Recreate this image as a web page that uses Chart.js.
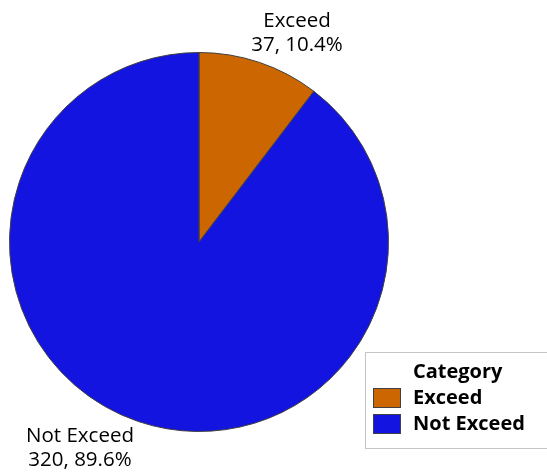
<!DOCTYPE html>
<html>
<head>
<meta charset="utf-8">
<script src="https://cdn.jsdelivr.net/npm/chart.js@4/dist/chart.umd.min.js"></script>
<style>
  html, body { margin: 0; padding: 0; background: #fff; }
  #wrap { width: 547px; height: 472px; position: relative; }
</style>
</head>
<body>
<div id="wrap"><canvas id="pieChart" width="547" height="472"></canvas></div>
<script>
const categories = ['Exceed', 'Not Exceed'];
const counts = [37, 320];
const percents = [10.4, 89.6];
const sliceColors = ['#CC6600', '#1414E0'];
const legendTitle = 'Category';

const FONT = '"Open Sans", "Noto Sans", sans-serif';

// slice labels: name on the first line, "count, pct%" on the second
const sliceLabels = {
    id: 'sliceLabels',
    afterDraw(chart) {
        const ctx = chart.ctx;
        const spots = [
            { x: 297, y: 27 },
            { x: 80, y: 442 }
        ];
        ctx.save();
        ctx.fillStyle = '#000';
        ctx.font = '20.5px ' + FONT;
        ctx.textAlign = 'center';
        ctx.textBaseline = 'alphabetic';
        categories.forEach((cat, i) => {
            ctx.fillText(cat, spots[i].x, spots[i].y);
            ctx.fillText(counts[i] + ', ' + percents[i].toFixed(1) + '%', spots[i].x, spots[i].y + 24);
        });
        ctx.restore();
    }
};

// boxed legend in the lower right corner
const boxLegend = {
    id: 'boxLegend',
    afterDraw(chart) {
        const ctx = chart.ctx;
        ctx.save();
        ctx.fillStyle = '#fff';
        ctx.fillRect(365, 352, 190, 97);
        ctx.strokeStyle = '#c4c4c4';
        ctx.lineWidth = 1;
        ctx.strokeRect(365.5, 352.5, 190, 96);

        ctx.fillStyle = '#000';
        ctx.font = 'bold 20px ' + FONT;
        ctx.textAlign = 'left';
        ctx.textBaseline = 'alphabetic';
        ctx.fillText(legendTitle, 413, 378);

        categories.forEach((cat, i) => {
            const top = 388 + i * 26;
            ctx.fillStyle = sliceColors[i];
            ctx.fillRect(373, top, 28, 20);
            ctx.strokeStyle = '#404040';
            ctx.strokeRect(373.5, top + 0.5, 27, 19);
            ctx.fillStyle = '#000';
            ctx.fillText(cat, 413, top + 16);
        });
        ctx.restore();
    }
};

new Chart(document.getElementById('pieChart').getContext('2d'), {
    type: 'pie',
    data: {
        labels: categories,
        datasets: [{
            data: counts,
            backgroundColor: sliceColors,
            borderColor: '#404040',
            borderWidth: 1
        }]
    },
    options: {
        responsive: false,
        animation: false,
        layout: { padding: { left: 9, right: 158, top: 52, bottom: 40 } },
        plugins: {
            legend: { display: false },
            tooltip: { enabled: false }
        }
    },
    plugins: [sliceLabels, boxLegend]
});
</script>
</body>
</html>
